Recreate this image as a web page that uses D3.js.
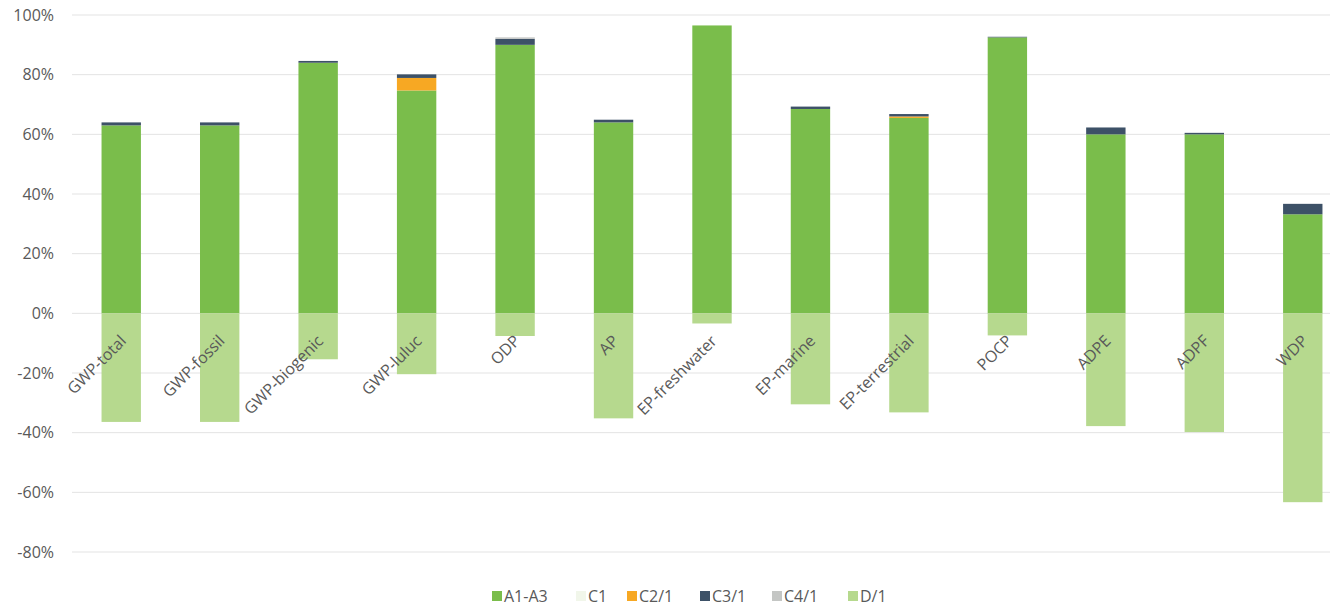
<!DOCTYPE html>
<html>
<head>
<meta charset="utf-8">
<script src="https://cdn.jsdelivr.net/npm/d3@7"></script>
<style>
  body { margin: 0; background: #fff; }
  text { font-family: "Open Sans", "Liberation Sans", sans-serif; }
</style>
</head>
<body>
<div id="chart"></div>
<script>
// categories (indicators)
let categories = ['GWP-total', 'GWP-fossil', 'GWP-biogenic', 'GWP-luluc', 'ODP', 'AP',
  'EP-freshwater', 'EP-marine', 'EP-terrestrial', 'POCP', 'ADPE', 'ADPF', 'WDP'];

// series values, in %
let a1a3 = [63, 63, 84, 74.7, 90, 64, 96.5, 68.5, 65.5, 92.5, 60, 60, 33.2];
let c1 = [0, 0, 0, 0, 0, 0, 0, 0, 0, 0, 0, 0, 0];
let c2 = [0, 0, 0, 4.2, 0, 0, 0, 0, 0.5, 0, 0, 0, 0];
let c3 = [1, 1, 0.6, 1.2, 2, 0.9, 0, 0.8, 0.8, 0.2, 2.3, 0.5, 3.5];
let c4 = [0, 0, 0, 0, 0.5, 0, 0, 0, 0, 0, 0, 0, 0];
let d1 = [-36.4, -36.4, -15.4, -20.4, -7.6, -35.2, -3.4, -30.5, -33.2, -7.4, -37.8, -39.8, -63.3];

let seriesNames = ['A1-A3', 'C1', 'C2/1', 'C3/1', 'C4/1', 'D/1'];
let seriesValues = [a1a3, c1, c2, c3, c4, d1];
let colors = ['#7abd4b', '#f1f6ea', '#f7a823', '#3d5167', '#c4c6c4', '#b6d98e'];

let yTicks = [-80, -60, -40, -20, 0, 20, 40, 60, 80, 100];

let width = 1339, height = 607;

let rows = categories.map((c, i) => {
  let r = { cat: c };
  seriesNames.forEach((s, j) => { r[s] = seriesValues[j][i]; });
  return r;
});

let svg = d3.select('#chart').append('svg')
  .attr('width', width)
  .attr('height', height);

let x = d3.scaleBand()
  .domain(categories)
  .range([72, 1352])
  .paddingInner(0.6)
  .paddingOuter(0.3);

let y = d3.scaleLinear()
  .domain([-80, 100])
  .range([552, 15]);

// gridlines
svg.append('g')
  .selectAll('line')
  .data(yTicks)
  .enter().append('line')
  .attr('x1', 72)
  .attr('x2', 1330)
  .attr('y1', d => y(d))
  .attr('y2', d => y(d))
  .attr('stroke', '#e3e3e3')
  .attr('stroke-width', 1);

// y axis labels
let yAxis = svg.append('g')
  .attr('transform', 'translate(60,0)')
  .call(d3.axisLeft(y).tickValues(yTicks).tickFormat(d => d + '%').tickSize(0).tickPadding(6));
yAxis.select('.domain').remove();
yAxis.selectAll('text')
  .attr('fill', '#595959')
  .style('font-size', '16px');

// stacked bars
let stack = d3.stack()
  .keys(seriesNames)
  .offset(d3.stackOffsetDiverging);
let stacked = stack(rows);

svg.append('g')
  .selectAll('g')
  .data(stacked)
  .enter().append('g')
  .attr('fill', (d, i) => colors[i])
  .selectAll('rect')
  .data(d => d)
  .enter().append('rect')
  .attr('x', d => x(d.data.cat))
  .attr('width', x.bandwidth())
  .attr('y', d => y(Math.max(d[0], d[1])))
  .attr('height', d => Math.abs(y(d[0]) - y(d[1])));

// category labels, rotated
svg.append('g')
  .selectAll('text')
  .data(categories)
  .enter().append('text')
  .attr('transform', d => 'translate(' + (x(d) + x.bandwidth() / 2 + 6) + ',' + 342 + ') rotate(-45)')
  .attr('text-anchor', 'end')
  .attr('fill', '#595959')
  .style('font-size', '16px')
  .text(d => d);

// legend
let legend = svg.append('g')
  .attr('transform', 'translate(0,596)');
let legendX = [492, 576, 627, 700, 772, 848];
let item = legend.selectAll('g')
  .data(seriesNames)
  .enter().append('g')
  .attr('transform', (d, i) => 'translate(' + legendX[i] + ',0)');
item.append('rect')
  .attr('x', 0)
  .attr('y', -5)
  .attr('width', 10)
  .attr('height', 10)
  .attr('fill', (d, i) => colors[i]);
item.append('text')
  .attr('x', 12)
  .attr('y', 6)
  .attr('fill', '#595959')
  .style('font-size', '16px')
  .text(d => d);
</script>
</body>
</html>
